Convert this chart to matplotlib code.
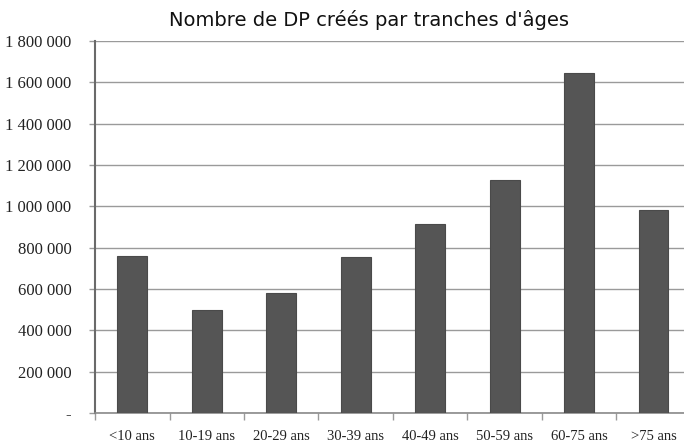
import matplotlib
matplotlib.use("Agg")
import matplotlib.pyplot as plt
import numpy as np
from matplotlib.ticker import FuncFormatter, FixedLocator

# data
categories = ["<10 ans", "10-19 ans", "20-29 ans", "30-39 ans",
              "40-49 ans", "50-59 ans", "60-75 ans", ">75 ans"]
values = [758000, 498000, 580000, 755000, 915000, 1127000, 1645000, 980000]
y_ticks = [0, 200000, 400000, 600000, 800000, 1000000,
           1200000, 1400000, 1600000, 1800000]
title = "Nombre de DP créés par tranches d'âges"


def fmt(v, pos):
    if v == 0:
        return "-"
    return f"{int(v):,}".replace(",", " ")


fig = plt.figure(figsize=(6.84, 4.44), dpi=100)
ax = fig.add_axes([0.139, 0.0698, 0.871, 0.838])

x = np.arange(len(categories))
ax.bar(x, values, width=0.4, color="#555555", edgecolor="#4a4a4a",
       linewidth=0.8, zorder=3)

ax.set_xlim(-0.5, len(categories) - 0.5)
ax.set_ylim(0, 1800000)
ax.set_yticks(y_ticks)
ax.yaxis.set_major_formatter(FuncFormatter(fmt))
ax.grid(axis="y", color="#9a9a9a", linewidth=1.0, zorder=0)

# ticks at category boundaries, labels at centres
ax.set_xticks(x)
ax.set_xticklabels(categories)
ax.xaxis.set_minor_locator(FixedLocator(np.arange(-0.5, len(categories), 1)))
ax.tick_params(axis="x", which="major", length=0, pad=12)
ax.tick_params(axis="x", which="minor", length=5, color="#9a9a9a", width=1)
ax.tick_params(axis="y", length=4, color="#9a9a9a", width=1, pad=13)

for lab in ax.get_xticklabels():
    lab.set_fontfamily("Liberation Serif")
    lab.set_fontsize(10.5)
    lab.set_color("#222222")
for lab in ax.get_yticklabels():
    lab.set_fontfamily("Liberation Serif")
    lab.set_fontsize(12)
    lab.set_color("#222222")

for s in ["top", "right"]:
    ax.spines[s].set_visible(False)
ax.spines["left"].set_color("#6a6a6a")
ax.spines["left"].set_linewidth(1.5)
ax.spines["bottom"].set_color("#8a8a8a")
ax.spines["bottom"].set_linewidth(1.2)

fig.text(0.54, 0.955, title, ha="center", va="center",
         fontsize=14, family="DejaVu Sans", color="#111111")

fig.savefig("out.png", dpi=100)
